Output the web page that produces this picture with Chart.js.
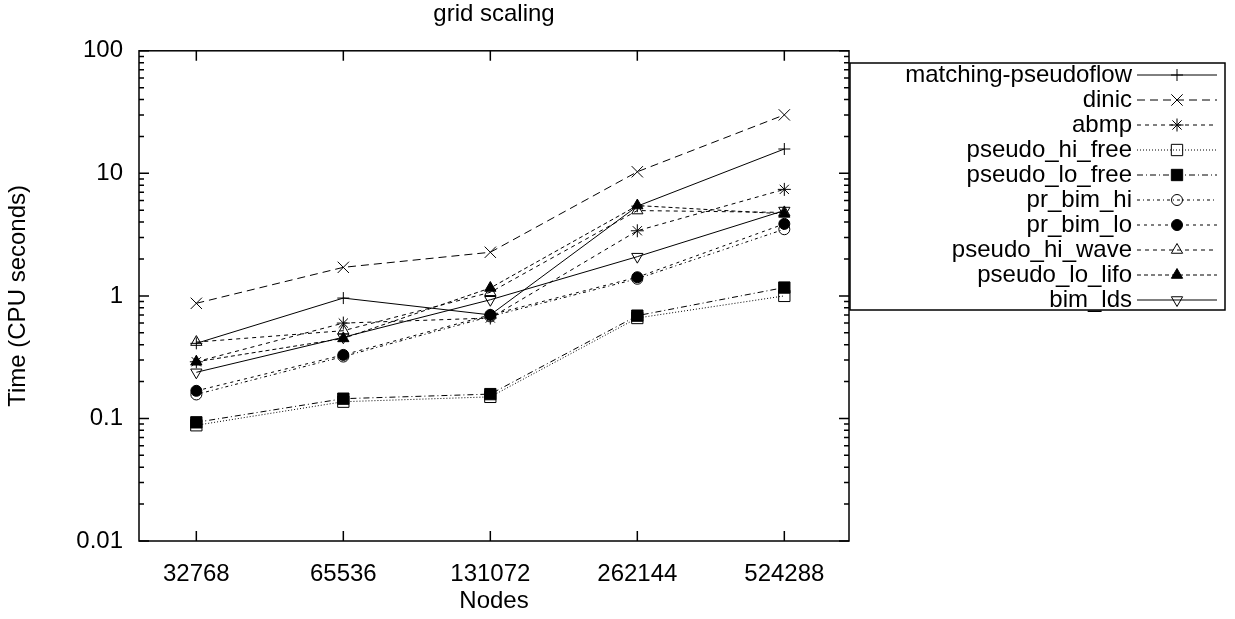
<!DOCTYPE html>
<html>
<head>
<meta charset="utf-8">
<script src="https://cdn.jsdelivr.net/npm/chart.js@4.4.0/dist/chart.umd.min.js"></script>
<style>
  html, body { margin: 0; padding: 0; background: #fff; }
</style>
</head>
<body>
<canvas id="myChart" width="1235" height="619"></canvas>
<script>
const nodes = ['32768', '65536', '131072', '262144', '524288'];
const yTicks = [0.01, 0.1, 1, 10, 100];
const yTickLabels = ['0.01', '0.1', '1', '10', '100'];

const matchingPseudoflow = [0.41, 0.96, 0.70, 5.4, 15.8];
const dinic = [0.87, 1.71, 2.27, 10.3, 30];
const abmp = [0.29, 0.60, 0.66, 3.4, 7.4];
const pseudoHiFree = [0.088, 0.137, 0.150, 0.66, 1.0];
const pseudoLoFree = [0.093, 0.145, 0.158, 0.69, 1.17];
const prBimHi = [0.157, 0.32, 0.68, 1.38, 3.5];
const prBimLo = [0.168, 0.33, 0.70, 1.42, 3.87];
const pseudoHiWave = [0.42, 0.52, 1.07, 4.97, 4.8];
const pseudoLoLifo = [0.29, 0.45, 1.16, 5.46, 4.67];
const bimLds = [0.238, 0.46, 0.93, 2.09, 4.97];

const FONT = "'Liberation Sans', Arial, Helvetica, sans-serif";

function series(label, values, style, dash, radius, filled, rotation) {
    return {
        label: label,
        data: values.map((v, i) => ({ x: i, y: v })),
        borderColor: '#000',
        borderWidth: 1,
        borderDash: dash,
        backgroundColor: '#000',
        pointStyle: style,
        pointRadius: radius,
        pointRotation: rotation || 0,
        pointBorderWidth: 1,
        pointBorderColor: '#000',
        pointBackgroundColor: filled ? '#000' : 'rgba(0,0,0,0)',
        tension: 0,
        fill: false,
    };
}

const datasets = [
    series('matching-pseudoflow', matchingPseudoflow, 'cross', [], 6, false),
    series('dinic', dinic, 'crossRot', [8, 5], 8, false),
    series('abmp', abmp, 'star', [4, 4], 6.5, false),
    series('pseudo_hi_free', pseudoHiFree, 'rect', [1, 2], 8, false),
    series('pseudo_lo_free', pseudoLoFree, 'rect', [6, 3, 1, 3], 8, true),
    series('pr_bim_hi', prBimHi, 'circle', [3, 3, 1, 3], 5.5, false),
    series('pr_bim_lo', prBimLo, 'circle', [3, 4], 5.5, true),
    series('pseudo_hi_wave', pseudoHiWave, 'triangle', [4, 4], 6.5, false),
    series('pseudo_lo_lifo', pseudoLoLifo, 'triangle', [4, 3], 6.5, true),
    series('bim_lds', bimLds, 'triangle', [], 6.5, false, 180),
];

// frame, inward ticks and the gnuplot-style key
const framePlugin = {
    id: 'frame',
    afterDraw(chart) {
        const ctx = chart.ctx;
        const a = chart.chartArea;
        const xs = chart.scales.x;
        const ys = chart.scales.y;
        ctx.save();
        ctx.strokeStyle = '#000';
        ctx.lineWidth = 1.5;
        ctx.strokeRect(a.left, a.top, a.right - a.left, a.bottom - a.top);
        ctx.beginPath();
        for (let d = 0; d < yTicks.length; d++) {
            const y = ys.getPixelForValue(yTicks[d]);
            ctx.moveTo(a.left, y); ctx.lineTo(a.left + 10, y);
            ctx.moveTo(a.right, y); ctx.lineTo(a.right - 10, y);
            if (d < yTicks.length - 1) {
                for (let m = 2; m <= 9; m++) {
                    const ym = ys.getPixelForValue(yTicks[d] * m);
                    ctx.moveTo(a.left, ym); ctx.lineTo(a.left + 5, ym);
                    ctx.moveTo(a.right, ym); ctx.lineTo(a.right - 5, ym);
                }
            }
        }
        nodes.forEach((n, i) => {
            const x = xs.getPixelForValue(i);
            ctx.moveTo(x, a.bottom); ctx.lineTo(x, a.bottom - 10);
            ctx.moveTo(x, a.top); ctx.lineTo(x, a.top + 10);
        });
        ctx.stroke();

        // key box
        const bx = 850, by = 63, bw = 375, bh = 247;
        ctx.fillStyle = '#fff';
        ctx.fillRect(bx, by, bw, bh);
        ctx.strokeRect(bx, by, bw, bh);
        ctx.font = '24px ' + FONT;
        ctx.textAlign = 'right';
        ctx.textBaseline = 'middle';
        chart.data.datasets.forEach((ds, i) => {
            const y = 75 + i * 25;
            ctx.fillStyle = '#000';
            ctx.fillText(ds.label, 1132, y);
            ctx.save();
            ctx.lineWidth = 1;
            ctx.setLineDash(ds.borderDash);
            ctx.beginPath();
            ctx.moveTo(1137, y); ctx.lineTo(1217, y);
            ctx.stroke();
            ctx.setLineDash([]);
            ctx.fillStyle = ds.pointBackgroundColor;
            ctx.strokeStyle = '#000';
            Chart.helpers.drawPoint(ctx, {
                pointStyle: ds.pointStyle,
                radius: ds.pointRadius,
                rotation: ds.pointRotation,
                borderWidth: 1,
            }, 1177, y);
            ctx.restore();
        });
        ctx.restore();
    }
};

const ctx = document.getElementById('myChart').getContext('2d');

new Chart(ctx, {
    type: 'line',
    data: { datasets: datasets },
    options: {
        responsive: false,
        animation: false,
        layout: { padding: { left: 0, top: 0, right: 386, bottom: 0 } },
        plugins: {
            legend: { display: false },
            tooltip: { enabled: false },
            title: {
                display: true,
                text: 'grid scaling',
                fullSize: false,
                color: '#000',
                font: { family: FONT, size: 24, weight: 'normal' },
                padding: { top: 0, bottom: 22 },
            },
        },
        scales: {
            x: {
                type: 'linear',
                min: -0.39,
                max: 4.44,
                afterBuildTicks: (scale) => { scale.ticks = nodes.map((n, i) => ({ value: i })); },
                afterFit: (scale) => { scale.height = 78; },
                grid: { display: false, drawTicks: false },
                border: { display: false },
                ticks: {
                    color: '#000',
                    padding: 19,
                    maxRotation: 0,
                    font: { family: FONT, size: 24 },
                    callback: (value) => nodes[value],
                },
                title: {
                    display: true,
                    text: 'Nodes',
                    color: '#000',
                    font: { family: FONT, size: 24 },
                    padding: { top: 0, bottom: 3 },
                },
            },
            y: {
                type: 'logarithmic',
                min: 0.01,
                max: 100,
                afterBuildTicks: (scale) => { scale.ticks = yTicks.map(v => ({ value: v })); },
                afterFit: (scale) => { scale.width = 139; },
                grid: { display: false, drawTicks: false },
                border: { display: false },
                ticks: {
                    color: '#000',
                    padding: 16,
                    font: { family: FONT, size: 24 },
                    callback: (value, index) => yTickLabels[index],
                },
                title: {
                    display: true,
                    text: 'Time (CPU seconds)',
                    color: '#000',
                    font: { family: FONT, size: 24 },
                    padding: { top: 4, bottom: 0 },
                },
            },
        },
    },
    plugins: [framePlugin],
});
</script>
</body>
</html>
